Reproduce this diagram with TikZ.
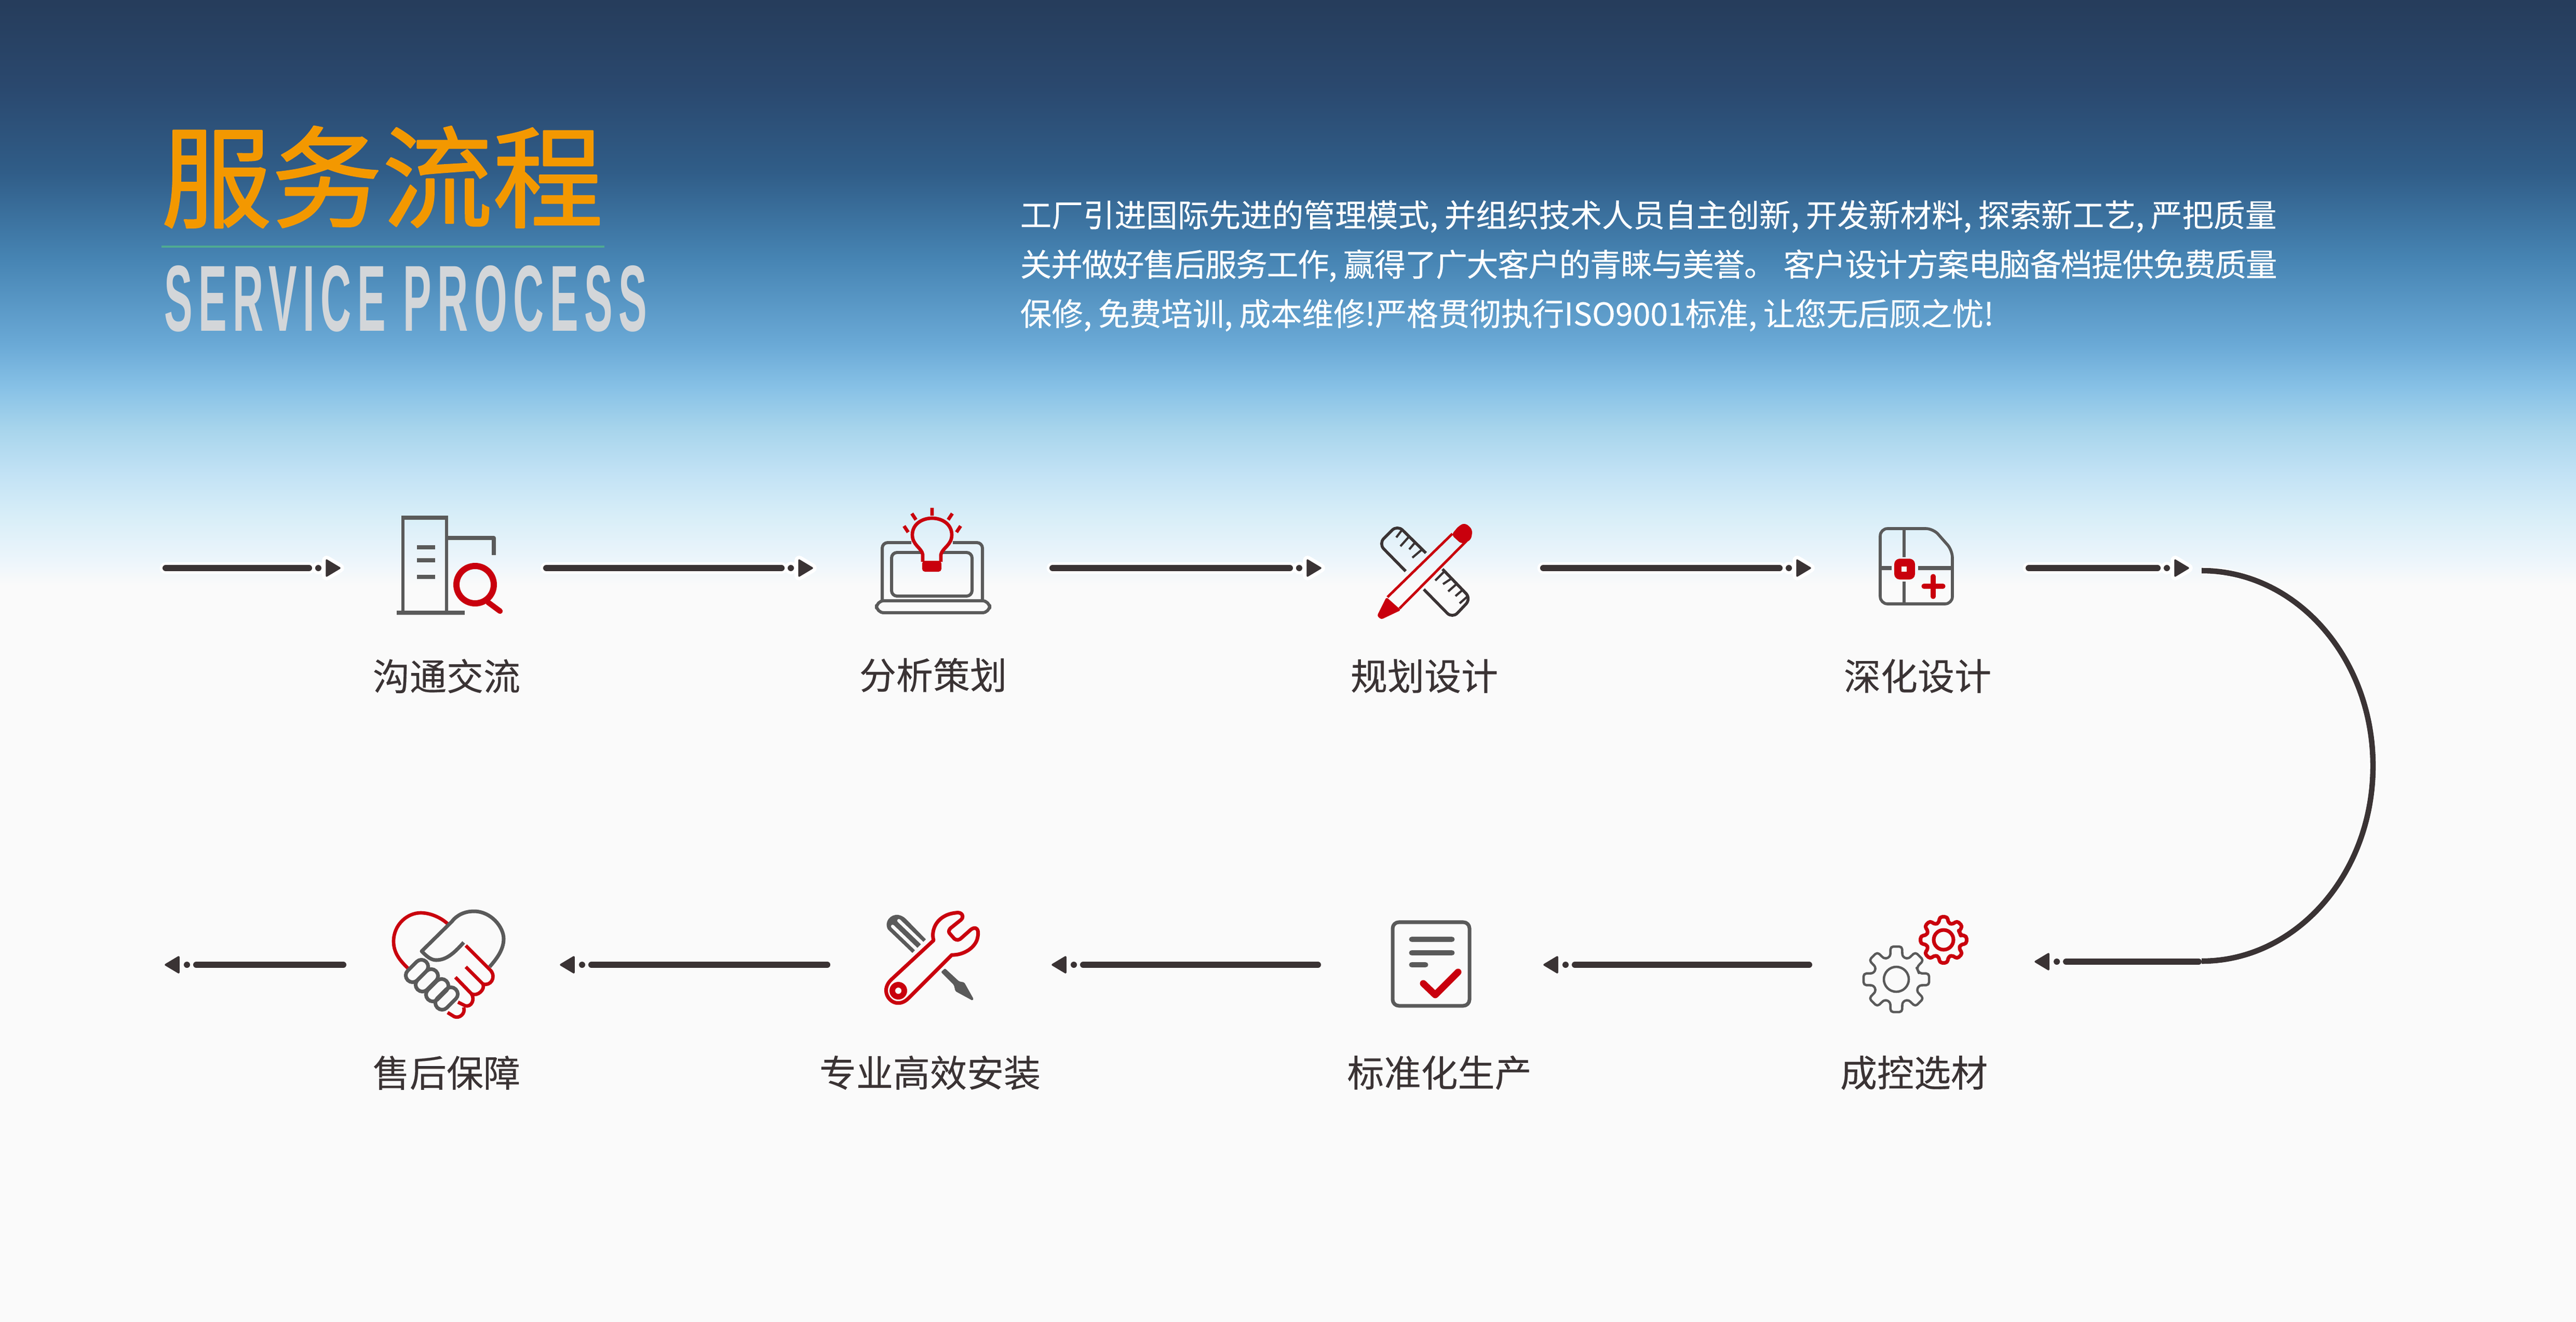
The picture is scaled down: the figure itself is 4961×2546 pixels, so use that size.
\documentclass[tikz,border=0pt]{standalone}
\usepackage{fontspec}
\usepackage{graphicx}
\setmainfont[FakeBold=0.25]{Noto Sans CJK SC}
\newfontfamily\titlefont[FakeBold=1.3]{Noto Sans CJK SC}
\newfontfamily\headfont[LetterSpace=14,BoldFont=Liberation Sans Bold]{Liberation Sans}
\definecolor{skya}{HTML}{263D5C}
\definecolor{skyb}{HTML}{2A486E}
\definecolor{skyc}{HTML}{305D88}
\definecolor{skyd}{HTML}{4684B3}
\definecolor{skye}{HTML}{6AA9D6}
\definecolor{skyf}{HTML}{87C1E6}
\definecolor{skyg}{HTML}{A8D5EC}
\definecolor{skyh}{HTML}{C2E2F5}
\definecolor{skyi}{HTML}{D8EEF8}
\definecolor{skyj}{HTML}{ECF5FB}
\definecolor{paper}{HTML}{FAFAFA}
\definecolor{iconred}{HTML}{C9000D}
\definecolor{icongray}{HTML}{5A5A5A}
\definecolor{inkdark}{HTML}{3A3334}
\definecolor{titleorange}{HTML}{F39800}
\definecolor{rulegreen}{HTML}{4FAA92}
\definecolor{subgray}{HTML}{D3D6D9}
\pgfdeclareverticalshading{skyfade}{100bp}{color(0bp)=(paper); color(49.47bp)=(paper); color(52.85bp)=(paper); color(53.83bp)=(skyj); color(55.46bp)=(skyi); color(57.09bp)=(skyh); color(58.72bp)=(skyg); color(60.35bp)=(skyf); color(61.98bp)=(skye); color(65.22bp)=(skyd); color(68.48bp)=(skyc); color(71.74bp)=(skyb); color(74.84bp)=(skya); color(100bp)=(skya)}
\tikzset{
	stepname/.style={font=\fontsize{20.2}{24}\selectfont, text=inkdark, inner sep=0pt},
	flowhalo/.style={draw=white, line width=6.4pt, line cap=round, shorten <=1.7pt, shorten >=1.7pt},
	flowline/.style={draw=inkdark, line width=3.4pt, line cap=round, shorten <=1.7pt, shorten >=1.7pt},
	flowtip/.style={fill=inkdark, draw=inkdark, line width=1pt, line join=round},
	grayline/.style={draw=icongray, line width=1.7pt},
	redline/.style={draw=iconred, line width=1.9pt},
}
\begin{document}
\begin{tikzpicture}[x=0.01cm, y=-0.01cm, line join=round]
	\shade[shading=skyfade] (0,0) rectangle (4961,2546);
	% heading
	\node[inner sep=0pt, text=titleorange] (title) at (736,341) {\titlefont\fontsize{60.5}{61}\selectfont 服务流程};
	\coordinate (ruleL) at (311,475);
	\coordinate (ruleR) at (1164,475);
	\draw[draw=rulegreen, line width=1.4pt] (ruleL) -- (ruleR);
	\node[inner sep=0pt, text=subgray, anchor=center] (subtitle) at (781,575) {\resizebox{9.29cm}{1.26cm}{\headfont\bfseries SERVICE PROCESS}};
	\node[inner sep=0pt, anchor=north west, align=left, text=white, font=\fontsize{17.24}{27.03}\selectfont] (intro) at (1964,385) {工厂引进国际先进的管理模式,\kern.2em 并组织技术人员自主创新,\kern.2em 开发新材料,\kern.2em 探索新工艺,\kern.2em 严把质量\\{\addfontfeature{LetterSpace=-2.1}关并做好售后服务工作,\kern.2em 赢得了广大客户的青睐与美誉。\kern.25em 客户设计方案电脑备档提供免费质量}\\保修,\kern.2em 免费培训,\kern.2em 成本维修!严格贯彻执行ISO9001标准,\kern.2em 让您无后顾之忧!};
	% step names
	\foreach \name/\px/\py/\txt in {ta/860/1302/沟通交流, tb/1797/1300/分析策划, tc/2743/1302/规划设计, td/3693/1302/深化设计, te/3686/2066/成控选材, tf/2772/2066/标准化生产, tg/1791/2066/专业高效安装, th/860/2066/售后保障}
	\node[stepname] (\name) at (\px,\py) {\txt};
	% arrows
	\foreach \i/\a/\b in {1/313/601, 2/1046/1511, 3/2021/2490, 4/2966/3433, 5/3901/4161}{
		\coordinate (up\i a) at (\a,1094);
		\coordinate (up\i b) at (\b,1094);
		\draw[flowhalo] (up\i a) -- (up\i b);
		\fill[white] (up\i b) ++(12,0) circle (12);
		\draw[draw=white, line width=5pt, fill=white] (up\i b) ++(28,-15) -- ++(25,15) -- ++(-25,15) -- cycle;
		\draw[flowline] (up\i a) -- (up\i b);
		\fill[inkdark] (up\i b) ++(12,0) circle (6);
		\draw[flowtip] (up\i b) ++(28,-15) -- ++(25,15) -- ++(-25,15) -- cycle;
	}
	\foreach \i/\a/\b/\yy in {1/4240/3973/1852, 2/3490/3027/1858, 3/2544/2080/1858, 4/1599/1133/1858, 5/667/372/1858}{
		\coordinate (lo\i a) at (\a,\yy);
		\coordinate (lo\i b) at (\b,\yy);
		\draw[flowline] (lo\i a) -- (lo\i b);
		\fill[inkdark] (lo\i b) ++(-12,0) circle (6);
		\draw[flowtip] (lo\i b) ++(-28,-15) -- ++(-25,15) -- ++(25,15) -- cycle;
	}
	\coordinate (bendA) at (4240,1099);
	\draw[draw=white, line width=4.4pt] (bendA) arc[start angle=-90, end angle=90, x radius=330, y radius=376];
	\draw[draw=inkdark, line width=3pt] (bendA) arc[start angle=-90, end angle=90, x radius=330, y radius=376];
	% building and magnifier
	\draw[grayline] (776,1180) -- (776,997) -- (860,997) -- (860,1180);
	\draw[draw=icongray, line width=2pt] (773,997) -- (863,997) (860,1036) -- (951,1036) -- (951,1069) (764,1180) -- (895,1180);
	\foreach \yy in {1054,1079,1111}
	\draw[draw=icongray, line width=2.3pt] (803,\yy) -- (838,\yy);
	\draw[draw=iconred, line width=3.4pt] (915,1126) circle (36);
	\draw[draw=iconred, line width=3pt, line cap=round] (940,1160) -- (963,1177);
	% laptop and bulb
	\draw[grayline, rounded corners=3pt] (1755,1045) -- (1699,1045) -- (1699,1155) (1835,1045) -- (1892,1045) -- (1892,1155);
	\draw[grayline, rounded corners=3pt] (1775,1064) -- (1717,1064) -- (1717,1148) -- (1872,1148) -- (1872,1064) -- (1815,1064);
	\draw[grayline, rounded corners=4pt] (1688,1157) -- (1906,1157) -- (1906,1180) -- (1688,1180) -- cycle;
	\draw[redline] (1777,1082) -- (1777,1068) .. controls (1775,1055) and (1757,1050) .. (1757,1030) .. controls (1757,1010) and (1775,998) .. (1795,998) .. controls (1815,998) and (1833,1010) .. (1833,1030) .. controls (1833,1050) and (1815,1055) .. (1812,1068) -- (1812,1082);
	\fill[iconred, rounded corners=1.5pt] (1776,1080) rectangle (1813,1101);
	\draw[redline] (1795,978) -- (1795,993) (1756,989) -- (1764,1001) (1834,989) -- (1826,1001) (1741,1013) -- (1749,1025) (1850,1013) -- (1842,1025);
	% ruler and pencil
	\draw[draw=inkdark, line width=1.6pt, rounded corners=4pt] (2707,1100) -- (2655,1047) -- (2691,1011) -- (2746,1065);
	\draw[draw=inkdark, line width=1.6pt, rounded corners=4pt] (2742,1135) -- (2797,1191) -- (2833,1153) -- (2778,1096);
	\foreach \xa/\ya/\xb/\yb in {2699/1022/2689/1035, 2714/1033/2697/1052, 2725/1045/2714/1058, 2740/1057/2720/1074, 2782/1100/2764/1118, 2797/1113/2779/1125, 2807/1123/2789/1139, 2818/1135/2803/1148, 2828/1147/2811/1162}
	\draw[draw=inkdark, line width=1.2pt] (\xa,\ya) -- (\xb,\yb);
	\draw[draw=iconred, line width=1.4pt] (2672,1150) -- (2797,1028) (2695,1172) -- (2824,1042);
	\fill[iconred, rounded corners=2pt] (2795,1030) -- (2810,1012) -- (2822,1007) -- (2836,1020) -- (2833,1040) -- (2815,1048) -- cycle;
	\fill[iconred, rounded corners=1pt] (2670,1150) -- (2652,1186) -- (2660,1193) -- (2698,1175) -- cycle;
	% plan with plus
	\draw[draw=icongray, line width=1.6pt, rounded corners=4pt] (3670,1018) -- (3723,1018) -- (3760,1060) -- (3760,1163) -- (3621,1163) -- (3621,1018) -- cycle;
	\draw[draw=icongray, line width=1.6pt] (3667,1018) -- (3667,1073) (3667,1120) -- (3667,1163);
	\draw[draw=icongray, line width=2pt] (3621,1094) -- (3643,1094) (3694,1094) -- (3760,1094);
	\fill[iconred, rounded corners=3pt] (3648,1076) rectangle (3688,1116);
	\fill[paper] (3662,1091) rectangle (3672,1101);
	\draw[draw=iconred, line width=2.6pt, line cap=round] (3705,1129) -- (3742,1129) (3723,1110) -- (3723,1149);
	% gears
	\foreach \gx/\gy/\rout/\rroot/\rhub/\col/\wd in {3652/1886/64/45/24/icongray/1.3pt, 3743/1810/45/34/19/iconred/2pt}{
		\begin{scope}[shift={(\gx,\gy)}]
			\draw[draw=\col, line width=\wd, rounded corners=1.5pt] (-22.5:\rroot) \foreach \k in {0,45,...,315}{ -- (\k-15:\rroot) -- (\k-10:\rout) -- (\k+10:\rout) -- (\k+15:\rroot)} -- cycle;
			\draw[draw=\col, line width=\wd] (0,0) circle (\rhub);
		\end{scope}
	}
	% document and check
	\draw[draw=icongray, line width=2pt, rounded corners=3.4pt] (2682,1776) rectangle (2830,1937);
	\draw[draw=icongray, line width=3.1pt, line cap=round] (2719,1809) -- (2796,1809) (2719,1835) -- (2796,1835) (2719,1858) -- (2745,1858);
	\draw[draw=iconred, line width=3.7pt, line cap=round] (2741,1894) -- (2764,1916) -- (2808,1872);
	% spanner and screwdriver
	\fill[icongray] (1757,1835) -- (1710,1790) .. controls (1702,1775) and (1715,1760) .. (1730,1762) .. controls (1735,1763) and (1740,1765) .. (1745,1770) -- (1783,1809) -- cycle;
	\draw[draw=paper, line width=1.8pt, line cap=round] (1719,1784) -- (1772,1835) (1731,1773) -- (1784,1824);
	\fill[icongray, rounded corners=0.5pt] (1812,1872) -- (1820,1865) -- (1847,1890) -- (1857,1892) -- (1875,1924) -- (1873,1927) -- (1840,1909) -- (1837,1897) -- cycle;
	\draw[draw=iconred, line width=2pt] (1716,1887) -- (1798,1811) .. controls (1792,1790) and (1805,1762) .. (1840,1758) .. controls (1853,1755) and (1858,1766) .. (1850,1772) -- (1830,1788) .. controls (1826,1793) and (1827,1796) .. (1830,1799) -- (1838,1808) .. controls (1843,1812) and (1848,1810) .. (1852,1806) -- (1870,1790) .. controls (1880,1783) and (1886,1790) .. (1883,1804) .. controls (1880,1825) and (1855,1840) .. (1833,1839) -- (1750,1922) .. controls (1735,1938) and (1715,1933) .. (1708,1916) .. controls (1704,1905) and (1708,1895) .. cycle;
	\fill[iconred] (1730,1908) circle (17);
	\fill[paper] (1730,1908) circle (6);
	% handshake
	\draw[redline] (787,1866) .. controls (770,1850) and (758,1835) .. (758,1813) .. controls (758,1780) and (785,1758) .. (810,1758) .. controls (830,1758) and (850,1768) .. (862,1779);
	\draw[grayline, line width=2pt] (893,1815) .. controls (875,1835) and (860,1849) .. (840,1849) .. controls (830,1849) and (822,1842) .. (812,1832) -- (870,1775) .. controls (880,1762) and (895,1755) .. (913,1755) .. controls (945,1755) and (970,1785) .. (970,1808) .. controls (970,1830) and (955,1848) .. (943,1862);
	\foreach \fx/\fy in {803/1870, 822/1888, 842/1907, 860/1923}{
		\begin{scope}[shift={(\fx,\fy)}, rotate=45]
			\draw[draw=icongray, line width=2pt, rounded corners=3.6pt] (-25,-13) rectangle (25,13);
		\end{scope}
	}
	\draw[redline] (897,1821) -- (945,1869) .. controls (956,1882) and (945,1900) .. (930,1895) -- (897,1862);
	\draw[redline] (877,1882) -- (908,1914) .. controls (920,1920) and (935,1905) .. (930,1895);
	\draw[redline] (908,1914) .. controls (915,1925) and (908,1940) .. (896,1937) -- (882,1930);
	\draw[redline] (893,1940) .. controls (897,1952) and (885,1962) .. (875,1958) -- (862,1950);
\end{tikzpicture}
\end{document}
